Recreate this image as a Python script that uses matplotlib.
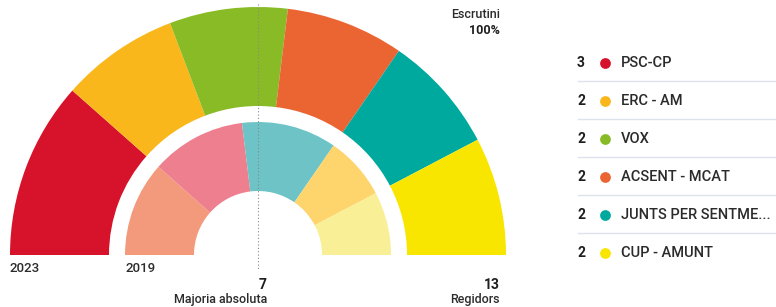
# Libraries
import matplotlib
matplotlib.use('Agg')
import matplotlib.pyplot as plt

# seats 2023 (outer ring)
parties = ['PSC-CP', 'ERC - AM', 'VOX', 'ACSENT - MCAT', 'JUNTS PER SENTME...', 'CUP - AMUNT']
seats_2023 = [3, 2, 2, 2, 2, 2]
colors_2023 = ['#d7132b', '#f9b71c', '#88bb26', '#ea6532', '#00a99e', '#f9e600']

# seats 2019 (inner ring)
seats_2019 = [3, 3, 3, 2, 2]
colors_2019 = ['#f29a7b', '#ee7f8e', '#6dc3c6', '#fed56d', '#f8ef97']

total_seats = 13
majority = 7

plt.rcParams['font.family'] = ['Roboto', 'DejaVu Sans']

fig = plt.figure(figsize=(7.76, 3.07), dpi=100)
ax = fig.add_axes([0, 0, 1, 1])

H = 307
cx, cy = 258, H - 255

# outer ring: 2023, bottom half hidden
ax.pie(seats_2023 + [total_seats], colors=colors_2023 + ['none'],
       startangle=180, counterclock=False, radius=248, center=(cx, cy),
       wedgeprops=dict(width=99, linewidth=0))
# inner ring: 2019
ax.pie(seats_2019 + [total_seats], colors=colors_2019 + ['none'],
       startangle=180, counterclock=False, radius=133, center=(cx, cy),
       wedgeprops=dict(width=69, linewidth=0))

# majority line
ax.plot([cx, cx], [H - 4, H - 270], color='#888888', lw=0.8, ls=(0, (1, 2)), zorder=5)

txt = '#2b2b2b'
ax.text(10, H - 268, '2023', fontsize=9.5, fontweight='medium', color=txt, va='center', ha='left')
ax.text(125, H - 268, '2019', fontsize=9.5, fontweight='medium', color=txt, va='center', ha='left')
ax.text(267, H - 285, str(majority), fontsize=10, fontweight='bold', color='#1e1e1e', va='center', ha='right')
ax.text(267, H - 300, 'Majoria absoluta', fontsize=9, fontweight='medium', color=txt, va='center', ha='right')
ax.text(500, H - 285, str(total_seats), fontsize=10, fontweight='bold', color='#1e1e1e', va='center', ha='right')
ax.text(500, H - 300, 'Regidors', fontsize=9, fontweight='medium', color=txt, va='center', ha='right')
ax.text(500, H - 15, 'Escrutini', fontsize=9, fontweight='medium', color=txt, va='center', ha='right')
ax.text(500, H - 30, '100%', fontsize=9, fontweight='bold', color='#1e1e1e', va='center', ha='right')

# legend
row_y = [63, 101, 139, 177, 215, 253]
for i, (p, s, c) in enumerate(zip(parties, seats_2023, colors_2023)):
    y = H - row_y[i]
    ax.text(577, y, str(s), fontsize=10, fontweight='bold', color='#1e1e1e', va='center', ha='left')
    ax.scatter([605], [y], s=60, color=c, linewidths=0, zorder=5)
    ax.text(621, y, p, fontsize=10.5, fontweight='medium', color=txt, va='center', ha='left')
    if i < len(parties) - 1:
        ly = H - (row_y[i] + 18)
        ax.plot([578, 776], [ly, ly], color='#dde3ec', lw=1)

ax.set_xlim(0, 776)
ax.set_ylim(0, H)
ax.set_aspect('equal')
ax.axis('off')

fig.savefig('out.png', dpi=100)
